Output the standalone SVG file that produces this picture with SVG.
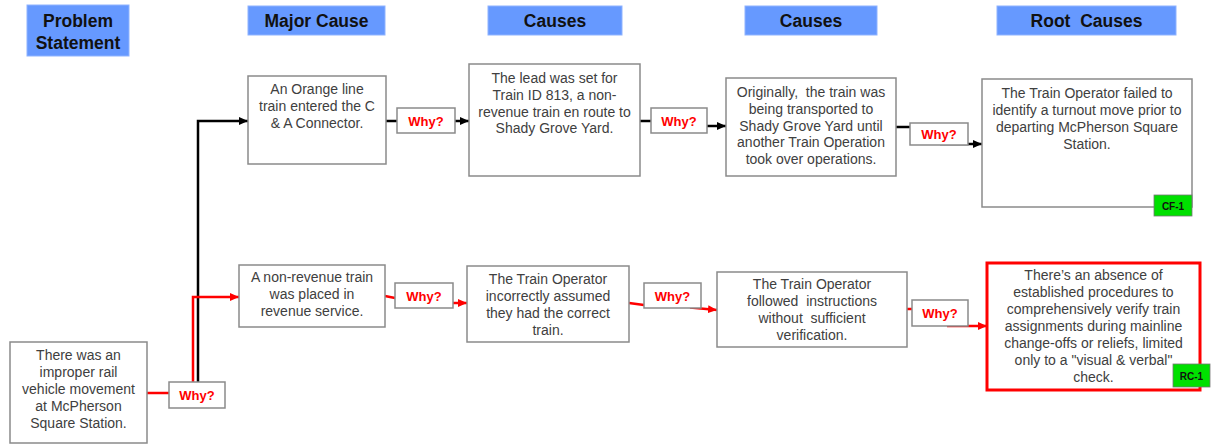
<svg xmlns="http://www.w3.org/2000/svg" width="1217" height="444" viewBox="0 0 1217 444">
<style>
.hdr{fill:#6699ff;stroke:#8fb3ff;stroke-width:1}
.ht{font-family:"Liberation Sans",Arial,sans-serif;font-weight:bold;font-size:17.5px;fill:#111;text-anchor:middle}
.box{fill:#fff;stroke:#8a8a8a;stroke-width:1.5}
.rc{fill:#fff;stroke:#ff0000;stroke-width:3}
.bt{font-family:"Liberation Sans",Arial,sans-serif;font-size:14px;fill:#404040;text-anchor:middle}
.why{fill:#fff;stroke:#8a8a8a;stroke-width:1.5}
.wt{font-family:"Liberation Sans",Arial,sans-serif;font-weight:bold;font-size:13px;fill:#ff0000;text-anchor:middle}
.tag{fill:#00e000;stroke:#777;stroke-width:0.8}
.tt{font-family:"Liberation Sans",Arial,sans-serif;font-weight:bold;font-size:10px;fill:#111;text-anchor:middle}
.cb{fill:none;stroke:#000;stroke-width:2.5}
.cr{fill:none;stroke:#ff0000;stroke-width:2.5}
.ab{marker-end:url(#arB)}
.ar{marker-end:url(#arR)}
</style>
<defs>
<marker id="arB" markerUnits="userSpaceOnUse" markerWidth="10" markerHeight="10" refX="9" refY="5" orient="auto"><path d="M0,1 L9,5 L0,9 z" fill="#000"/></marker>
<marker id="arR" markerUnits="userSpaceOnUse" markerWidth="10" markerHeight="10" refX="9" refY="5" orient="auto"><path d="M0,1 L9,5 L0,9 z" fill="#ff0000"/></marker>
</defs>
<rect width="1217" height="444" fill="#fff"/>

<g id="headers">
<g id="hdr-problem"><rect class="hdr" x="27" y="5" width="102" height="51"/><text class="ht" x="78" y="27">Problem</text><text class="ht" x="78" y="49">Statement</text></g>
<g id="hdr-major"><rect class="hdr" x="248" y="6" width="137" height="29"/><text class="ht" x="316.5" y="27">Major Cause</text></g>
<g id="hdr-causes1"><rect class="hdr" x="488" y="6" width="134" height="29"/><text class="ht" x="555" y="27">Causes</text></g>
<g id="hdr-causes2"><rect class="hdr" x="745" y="6" width="132" height="29"/><text class="ht" x="811" y="27">Causes</text></g>
<g id="hdr-root"><rect class="hdr" x="997" y="6" width="179" height="29"/><text class="ht" x="1086.5" y="27" xml:space="preserve">Root  Causes</text></g>
</g>

<g id="connectors">
<polyline class="cb ab" points="198,382 198,121 248,121"/>
<line class="cb" x1="386" y1="121" x2="397" y2="121"/>
<line class="cb ab" x1="455" y1="121" x2="469" y2="121"/>
<line class="cb" x1="640" y1="121" x2="651" y2="121"/>
<line class="cb ab" x1="707" y1="126" x2="726" y2="126"/>
<line class="cb" x1="896" y1="127" x2="910" y2="127"/>
<line class="cb ab" x1="940" y1="144" x2="982" y2="144"/>
<line class="cr" x1="147" y1="393" x2="169" y2="393"/>
<polyline class="cr ar" points="193,382 193,297 239,297"/>
<line class="cr" x1="385" y1="296" x2="395" y2="298"/>
<line class="cr ar" x1="453" y1="303" x2="467" y2="303"/>
<line class="cr" x1="629" y1="303" x2="644" y2="305"/>
<line class="cr ar" x1="690" y1="307.5" x2="717" y2="310"/>
<line class="cr" x1="907" y1="309" x2="912" y2="309"/>
<line class="cr ar" x1="947" y1="326" x2="987" y2="326"/>
</g>

<g id="node-problem"><rect class="box" x="10" y="342" width="137" height="101"/>
<text class="bt"><tspan x="78.5" y="360">There was an</tspan><tspan x="78.5" y="377">improper rail</tspan><tspan x="78.5" y="394">vehicle movement</tspan><tspan x="78.5" y="411">at McPherson</tspan><tspan x="78.5" y="428">Square Station.</tspan></text></g>

<g id="node-major1"><rect class="box" x="248" y="76" width="138" height="88"/>
<text class="bt"><tspan x="317" y="94">An Orange line</tspan><tspan x="317" y="111">train entered the C</tspan><tspan x="317" y="128">&amp; A Connector.</tspan></text></g>

<g id="node-cause1a"><rect class="box" x="469" y="64" width="171" height="112"/>
<text class="bt"><tspan x="554.5" y="83">The lead was set for</tspan><tspan x="554.5" y="100">Train ID 813, a non-</tspan><tspan x="554.5" y="117">revenue train en route to</tspan><tspan x="554.5" y="133">Shady Grove Yard.</tspan></text></g>

<g id="node-cause1b"><rect class="box" x="726" y="78" width="170" height="98"/>
<text class="bt" xml:space="preserve"><tspan x="811" y="97">Originally,  the train was</tspan><tspan x="811" y="114">being transported to</tspan><tspan x="811" y="131">Shady Grove Yard until</tspan><tspan x="811" y="147">another Train Operation</tspan><tspan x="811" y="164">took over operations.</tspan></text></g>

<g id="node-root1"><rect class="box" x="982" y="79" width="210" height="128"/>
<text class="bt"><tspan x="1087" y="98">The Train Operator failed to</tspan><tspan x="1087" y="115">identify a turnout move prior to</tspan><tspan x="1087" y="132">departing McPherson Square</tspan><tspan x="1087" y="149">Station.</tspan></text>
<rect class="tag" x="1154" y="195" width="38" height="21"/><text class="tt" x="1173" y="209.5">CF-1</text></g>

<g id="node-major2"><rect class="box" x="239" y="265" width="146" height="62"/>
<text class="bt"><tspan x="312" y="282">A non-revenue train</tspan><tspan x="312" y="299">was placed in</tspan><tspan x="312" y="316">revenue service.</tspan></text></g>

<g id="node-cause2a"><rect class="box" x="467" y="266" width="162" height="76"/>
<text class="bt"><tspan x="548" y="284">The Train Operator</tspan><tspan x="548" y="301">incorrectly assumed</tspan><tspan x="548" y="318">they had the correct</tspan><tspan x="548" y="335">train.</tspan></text></g>

<g id="node-cause2b"><rect class="box" x="717" y="272" width="190" height="75"/>
<text class="bt" xml:space="preserve"><tspan x="812" y="289">The Train Operator</tspan><tspan x="812" y="306">followed  instructions</tspan><tspan x="812" y="323">without  sufficient</tspan><tspan x="812" y="340">verification.</tspan></text></g>

<g id="node-root2"><rect class="rc" x="987" y="263" width="213" height="127"/>
<text class="bt"><tspan x="1093.5" y="280">There’s an absence of</tspan><tspan x="1093.5" y="297">established procedures to</tspan><tspan x="1093.5" y="314">comprehensively verify train</tspan><tspan x="1093.5" y="331">assignments during mainline</tspan><tspan x="1093.5" y="348">change-offs or reliefs, limited</tspan><tspan x="1093.5" y="365">only to a "visual &amp; verbal"</tspan><tspan x="1093.5" y="382">check.</tspan></text>
<rect class="tag" x="1173" y="364" width="37" height="23"/><text class="tt" x="1191.5" y="379.5">RC-1</text></g>

<g id="why-labels">
<g id="why-1"><rect class="why" x="397" y="108" width="58" height="25"/><text class="wt" x="426" y="125.5">Why?</text></g>
<g id="why-2"><rect class="why" x="651" y="108" width="56" height="25"/><text class="wt" x="679" y="125.5">Why?</text></g>
<g id="why-3"><rect class="why" x="910" y="123" width="58" height="22"/><text class="wt" x="939" y="139">Why?</text></g>
<g id="why-4"><rect class="why" x="169" y="382" width="56" height="26"/><text class="wt" x="197" y="400">Why?</text></g>
<g id="why-5"><rect class="why" x="395" y="283" width="58" height="25"/><text class="wt" x="424" y="300.5">Why?</text></g>
<g id="why-6"><rect class="why" x="644" y="283" width="57" height="25"/><text class="wt" x="672.5" y="300.5">Why?</text></g>
<g id="why-7"><rect class="why" x="912" y="300" width="56" height="26"/><text class="wt" x="940" y="318">Why?</text></g>
</g>
</svg>
